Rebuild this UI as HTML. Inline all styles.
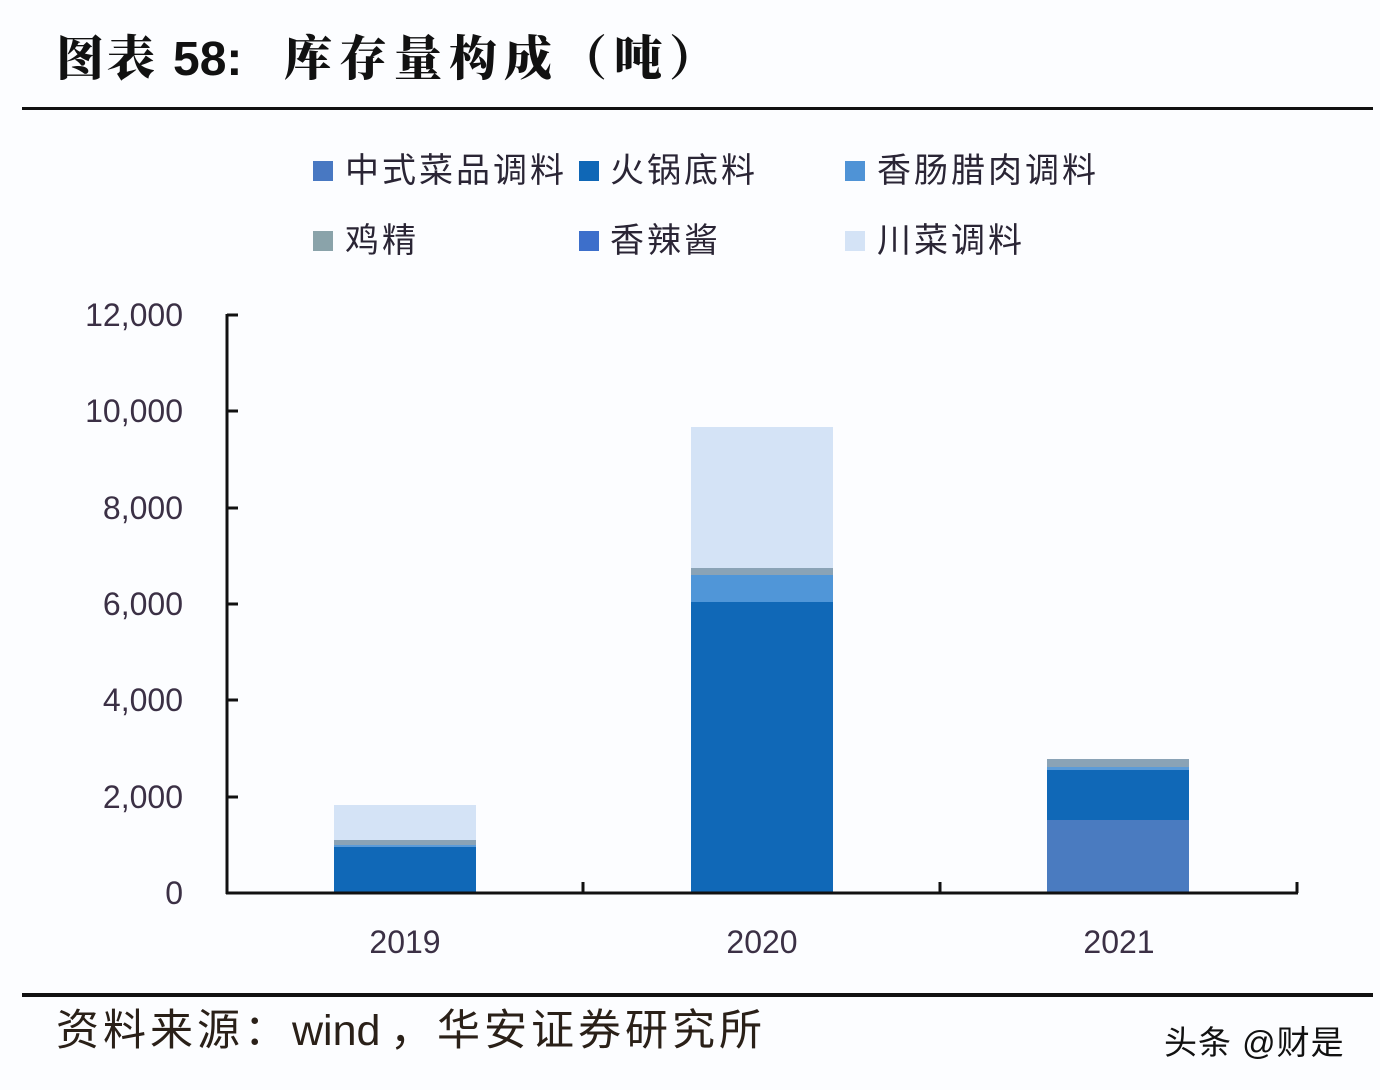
<!DOCTYPE html>
<html><head><meta charset="utf-8"><style>
html,body{margin:0;padding:0;background:#fcfdff;}
svg{display:block;}
</style></head><body>
<svg width="1380" height="1090" viewBox="0 0 1380 1090" xmlns="http://www.w3.org/2000/svg">
<rect width="1380" height="1090" fill="#fcfdff"/>
<!-- Title -->
<g font-family="'Liberation Sans','Noto Sans CJK SC',sans-serif" font-weight="bold" fill="#111">
<text x="56" y="75" font-size="48" font-family="'Noto Serif CJK SC','Noto Sans CJK SC',serif" font-weight="900" letter-spacing="3">图表</text>
<text x="173" y="75" font-size="48">58:</text>
<text x="284" y="75" font-size="48" font-family="'Noto Serif CJK SC','Noto Sans CJK SC',serif" font-weight="900" letter-spacing="7">库存量构成（吨）</text>
</g>
<rect x="22" y="107" width="1351" height="3" fill="#111"/>
<!-- Legend -->
<g font-family="'Liberation Sans','Noto Sans CJK SC',sans-serif" font-size="34" fill="#2a2535" letter-spacing="3">
<rect x="313" y="161" width="20" height="20" fill="#4878c2"/>
<text x="345" y="182">中式菜品调料</text>
<rect x="579" y="161" width="20" height="20" fill="#0f67b6"/>
<text x="610" y="182">火锅底料</text>
<rect x="845" y="161" width="20" height="20" fill="#4f93d6"/>
<text x="877" y="182">香肠腊肉调料</text>
<rect x="313" y="231" width="20" height="20" fill="#8aa3aa"/>
<text x="345" y="252">鸡精</text>
<rect x="579" y="231" width="20" height="20" fill="#3d6fcb"/>
<text x="610" y="252">香辣酱</text>
<rect x="845" y="231" width="20" height="20" fill="#d4e3f6"/>
<text x="877" y="252">川菜调料</text>
</g>
<!-- Y axis labels -->
<g font-family="'Liberation Sans',sans-serif" font-size="32" fill="#3b3045" text-anchor="end">
<text x="183" y="326">12,000</text>
<text x="183" y="422">10,000</text>
<text x="183" y="519">8,000</text>
<text x="183" y="615">6,000</text>
<text x="183" y="711">4,000</text>
<text x="183" y="808">2,000</text>
<text x="183" y="904">0</text>
</g>
<!-- Bars 2019 -->
<rect x="334" y="805" width="142" height="35" fill="#d4e3f6"/>
<rect x="334" y="840" width="142" height="5" fill="#8aa3b6"/>
<rect x="334" y="845" width="142" height="2" fill="#5b9bd8"/>
<rect x="334" y="847" width="142" height="46" fill="#1068b7"/>
<!-- Bars 2020 -->
<rect x="691" y="427" width="142" height="141" fill="#d4e3f6"/>
<rect x="691" y="568" width="142" height="7" fill="#8aa3b6"/>
<rect x="691" y="575" width="142" height="27" fill="#5096d8"/>
<rect x="691" y="602" width="142" height="291" fill="#1068b7"/>
<!-- Bars 2021 -->
<rect x="1047" y="759" width="142" height="8" fill="#8aa3b6"/>
<rect x="1047" y="767" width="142" height="3" fill="#5b9bd8"/>
<rect x="1047" y="770" width="142" height="50" fill="#1068b7"/>
<rect x="1047" y="820" width="142" height="73" fill="#4a7bc0"/>
<!-- Axes -->
<g stroke="#111" stroke-width="3" fill="none">
<line x1="227" y1="314" x2="227" y2="894"/>
<line x1="226" y1="893" x2="1298" y2="893"/>
<line x1="227" y1="315" x2="238" y2="315"/>
<line x1="227" y1="411" x2="238" y2="411"/>
<line x1="227" y1="508" x2="238" y2="508"/>
<line x1="227" y1="604" x2="238" y2="604"/>
<line x1="227" y1="700" x2="238" y2="700"/>
<line x1="227" y1="797" x2="238" y2="797"/>
<line x1="583" y1="882" x2="583" y2="893"/>
<line x1="940" y1="882" x2="940" y2="893"/>
<line x1="1297" y1="882" x2="1297" y2="893"/>
</g>
<!-- X labels -->
<g font-family="'Liberation Sans',sans-serif" font-size="32" fill="#3b3045" text-anchor="middle">
<text x="405" y="953">2019</text>
<text x="762" y="953">2020</text>
<text x="1119" y="953">2021</text>
</g>
<!-- Bottom rule & source -->
<rect x="22" y="993" width="1351" height="4" fill="#111"/>
<g font-family="'Liberation Sans','Noto Sans CJK SC',sans-serif" font-size="43" fill="#2a2018">
<text x="56" y="1045" letter-spacing="4">资料来源：</text>
<text x="292" y="1045">wind</text>
<text x="390" y="1045" letter-spacing="4">，华安证券研究所</text>
</g>
<text x="1164" y="1054" font-family="'Liberation Sans','Noto Sans CJK SC',sans-serif" font-size="33" fill="#111" letter-spacing="1">头条 @财是</text>
</svg>
</body></html>
